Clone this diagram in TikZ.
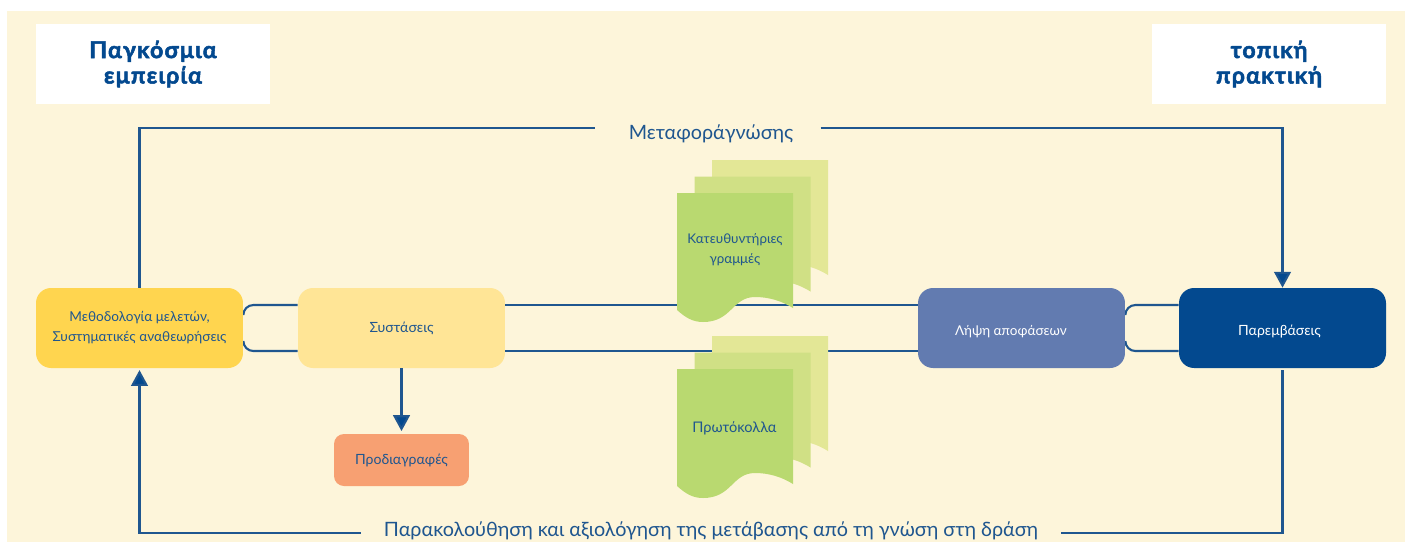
\documentclass[tikz,border=0pt]{standalone}
\usepackage{fontspec}
\setmainfont{Lato}
\newfontfamily\headfont[LetterSpace=5,BoldFeatures={FakeBold=2.2,LetterSpace=5}]{Lato}
\usetikzlibrary{arrows.meta,backgrounds}

\definecolor{paper}{HTML}{FDF5DA}
\definecolor{ink}{HTML}{1F568F}
\definecolor{navy}{HTML}{03498F}
\definecolor{methcol}{HTML}{FFD54F}
\definecolor{reccol}{HTML}{FFE596}
\definecolor{deccol}{HTML}{627BB0}
\definecolor{speccol}{HTML}{F7A072}
\definecolor{pagefront}{HTML}{B9D970}
\definecolor{pagemid}{HTML}{D0E085}
\definecolor{pageback}{HTML}{E3E796}

\tikzset{
  stagebox/.style={rounded corners=.3cm, minimum width=4.14cm, minimum height=1.6cm,
    inner sep=0pt, align=center, text=ink, font=\fontsize{8}{11.3}\selectfont},
  headbox/.style={fill=white, minimum width=4.68cm, minimum height=1.6cm, inner sep=0pt,
    align=center, text=navy, font=\fontsize{13.2}{14.5}\selectfont\headfont\bfseries},
  biglabel/.style={text=ink, inner ysep=0pt, font=\fontsize{11.25}{13}\selectfont},
  doclabel/.style={text=ink, align=center, inner sep=0pt, font=\fontsize{7.6}{11}\selectfont},
  link/.style={draw=ink, line width=1.2pt},
  linktip/.style={link, -{Triangle[length=9pt,width=9.5pt,fill=navy]}},
}
% text lowered inside a box without moving the box
\newcommand{\lowtext}[2]{\raisebox{-#1}[0pt][0pt]{#2}}

\begin{document}
\begin{tikzpicture}[x=0.02cm, y=-0.02cm]
  \useasboundingbox (0, 0) rectangle (1405, 542);

  % boxes
  \node[headbox] (global) at (153, 64) {Παγκόσμια\\εμπειρία};
  \node[headbox] (local) at (1269, 64) {τοπική\\πρακτική};

  \node[stagebox, fill=methcol, font=\fontsize{7.75}{11.3}\selectfont] (meth) at (139.5, 328) {Μεθοδολογία μελετών,\\Συστηματικές αναθεωρήσεις};
  \node[stagebox, fill=reccol] (rec) at (401.5, 328) {\lowtext{.09cm}{Συστάσεις}};
  \node[stagebox, fill=deccol, text=white, font=\fontsize{7.7}{11}\selectfont] (dec) at (1021.5, 328) {\lowtext{.14cm}{Λήψη αποφάσεων}\hspace*{.42cm}};
  \node[stagebox, fill=navy, text=white] (interv) at (1282.5, 328) {\lowtext{.15cm}{Παρεμβάσεις}\hspace*{.12cm}};
  \node[stagebox, fill=speccol, minimum width=2.7cm, minimum height=1.04cm, rounded corners=.2cm] (spec) at (401.5, 460) {\lowtext{.09cm}{Προδιαγραφές}};

  \node[biglabel, inner xsep=.66cm] (transfer) at (711, 134) {Μεταφοράγνώσης};
  \node[biglabel, inner xsep=.46cm] (monitor) at (711, 531) {Παρακολούθηση και αξιολόγηση της μετάβασης από τη γνώση στη δράση};

  % paper stacks
  \foreach \sy in {0,176} {
    \foreach \dx/\dy/\col in {35/-33/pageback, 17.5/-16.5/pagemid, 0/0/pagefront} {
      \fill[\col, shift={(677+\dx, 193+\sy+\dy)}] (0, 0) -- (116, 0) -- (116, 115)
        .. controls (105, 108) and (92, 104) .. (78, 104)
        .. controls (55, 104) and (55, 129) .. (26, 129)
        .. controls (15, 129) and (8, 124) .. (0, 117) -- cycle;
    }
  }
  \node[doclabel] (guide) at (735, 249.5) {Κατευθυντήριες\\γραμμές};
  \node[doclabel, font=\fontsize{8.3}{11}\selectfont] (proto) at (734.5, 428.5) {Πρωτόκολλα};

  % arrows
  \draw[link] (meth.north) |- ([yshift=.12cm]transfer.west);
  \draw[linktip] ([xshift=-.12cm, yshift=.12cm]transfer.east) -| (interv.north);
  \draw[linktip, shorten >=1.5pt] (rec.south) -- (spec.north);
  \draw[linktip, shorten >=1pt] ([yshift=-.04cm]monitor.west) -| (meth.south);
  \draw[link, shorten <=1.2pt] (interv.south) |- ([yshift=-.04cm]monitor.east);

  % lines behind the boxes
  \begin{pgfonlayer}{background}
    \fill[paper] (7, 11) rectangle (1405, 542);
    \draw[link, rounded corners=.2cm] ([yshift=.46cm]rec.west) -| ([yshift=.26cm]meth.east);
    \draw[link, rounded corners=.2cm] ([yshift=-.46cm]rec.west) -| ([yshift=-.26cm]meth.east);
    \draw[link] ([yshift=.46cm]rec.east) -- ([yshift=.46cm]dec.west);
    \draw[link] ([yshift=-.46cm]rec.east) -- ([yshift=-.46cm]dec.west);
    \draw[link, rounded corners=.2cm] ([yshift=.46cm]interv.west) -| ([yshift=.26cm]dec.east);
    \draw[link, rounded corners=.2cm] ([yshift=-.46cm]interv.west) -| ([yshift=-.26cm]dec.east);
  \end{pgfonlayer}
\end{tikzpicture}
\end{document}
